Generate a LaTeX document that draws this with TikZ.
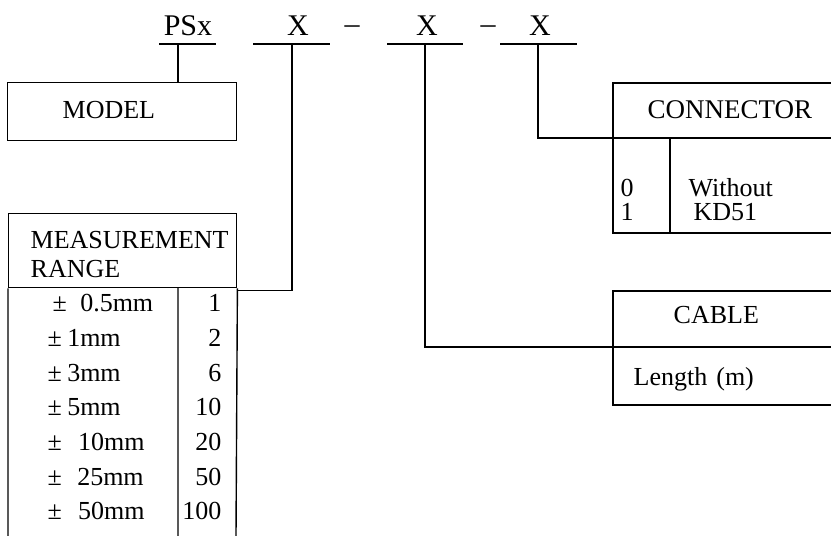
\documentclass[tikz,border=0pt]{standalone}
\usepackage{fontspec}
\setmainfont{Liberation Serif}
\usetikzlibrary{positioning,calc}

\begin{document}
\begin{tikzpicture}[x=1pt, y=-1pt, line width=1.4pt,
  code/.style={font=\fontsize{30}{30}\selectfont, inner sep=0pt, anchor=base},
  txt/.style={font=\fontsize{26}{26}\selectfont, inner sep=0pt, anchor=base west},
  two/.style={font=\fontsize{26}{24}\selectfont, inner sep=0pt, anchor=base west, align=left},
  num/.style={font=\fontsize{26}{26}\selectfont, inner sep=0pt, anchor=base east},
  frame/.style={draw, inner sep=0pt, anchor=north west}]
\useasboundingbox (0,0) rectangle (831,536);
% part number
\node[code] (psx) at (188,35) {PSx};
\node[code] (x1) at (298,35) {X};
\node[code] (d1) at (352,33) {--};
\node[code] (x2) at (427,35) {X};
\node[code] (d2) at (488,33) {--};
\node[code] (x3) at (540,35) {X};
\draw (159,44) -- (216,44) (253,44) -- (330,44) (387,44) -- (463,44) (500,44) -- (577,44);
\coordinate (t0) at (178,44);
\coordinate (t1) at (292,44);
\coordinate (t2) at (425,44);
\coordinate (t3) at (538,44);
% model
\node[frame, minimum width=229pt, minimum height=58pt] (model) at (7,82) {};
\node[txt] (modeltxt) at (62,118) {MODEL};
% measurement range
\node[frame, minimum width=228pt, minimum height=74pt] (range) at (8,213) {};
\node[txt] (rangetxt) at (30,248) {MEASUREMENT};
\node[txt] (rangetxt2) at (30,277) {RANGE};
\draw (range.south west) -- (8,536) (range.south east) -- (236,536) (178,287) -- (178,536);
\foreach \x/\s/\r/\v [count=\i] in {52/13.3/0.5mm/1, 47/5.3/1mm/2, 47/5.3/3mm/6, 47/5.3/5mm/10,
    47/16.3/10mm/20, 47/15.3/25mm/50, 47/16.3/50mm/100}{
  \node[txt] (rg\i) at (\x,277+34.7*\i) {±\hspace{\s pt}\r};
  \node[num] (cd\i) at (222,277+34.7*\i) {\v};
}
% connector
\draw (831,83) -- (613,83) -- (613,233) -- (831,233) (613,138) -- (831,138) (670,138) -- (670,233);
\coordinate (conn) at (613,138);
\node[txt] (conntxt) at (647,118) {\fontsize{27}{27}\selectfont CONNECTOR};
\node[two] (ccode) at (620,220) {0\\1};
\node[two] (ctxt) at (688,220) {Without\\\hspace{5pt}KD51};
% cable
\draw (831,291) -- (613,291) -- (613,405) -- (831,405) (613,347) -- (831,347);
\coordinate (cable) at (613,347);
\node[txt] (cabletxt) at (673,323) {CABLE};
\node[txt] (lentxt) at (633,385) {Length\hspace{9pt}(m)};
% leaders
\draw (t0) -- (t0 |- model.north);
\draw (t1) |- ($(range.south east)+(0,2)$);
\draw (t2) |- (cable);
\draw (t3) |- (conn);
\end{tikzpicture}
\end{document}
